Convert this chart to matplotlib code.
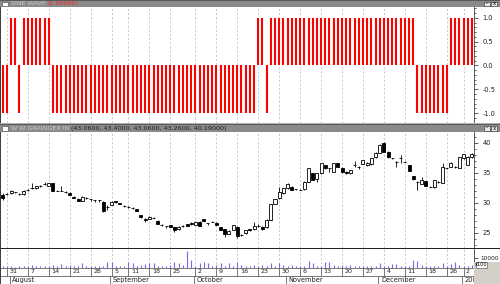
import matplotlib
matplotlib.use("Agg")
import matplotlib.pyplot as plt
from matplotlib.patches import Rectangle
import numpy as np

W, H = 500, 284

# sine wave indicator, one value per trading day
sine = [-1, -1, 1, 1, -1, 1, 1, 1, 1, 1, 1, 1,
        -1, -1, -1, -1, -1, -1, -1, -1, -1, -1, -1, -1, -1, -1, -1, -1, -1,
        -1, -1, -1, -1, -1, -1, -1, -1, -1, -1, -1, -1, -1, -1, -1, -1, -1,
        -1, -1, -1, -1, -1, -1, -1, -1, -1, -1, -1, -1, -1, -1, -1,
        1, 1, -1,
        1, 1, 1, 1, 1, 1, 1, 1, 1, 1, 1, 1, 1, 1, 1, 1, 1, 1,
        1, 1, 1, 1, 1, 1, 1, 1, 1, 1, 1, 1, 1, 1, 1, 1, 1,
        -1, -1, -1, -1, -1, -1, -1, -1,
        1, 1, 1, 1, 1, 1]

# daily prices
opens = [31.33, 31.5, 31.6, 31.8, 31.5, 31.5, 32.1, 32.45, 32.44, 32.8,
         33.1, 32.83, 33.39, 32.05, 32.05, 31.9, 31.72, 31.05, 30.7, 30.4,
         30.78, 30.6, 30.5, 30.5, 30.2, 29.35, 29.67, 30.3, 30.0, 29.5,
         29.3, 29.1, 28.95, 28.0, 27.4, 27.4, 27.55, 27.05, 26.33, 26.16,
         26.33, 25.94, 25.6, 26.16, 26.45, 26.7, 26.33, 26.9, 27.27, 26.6,
         26.9, 26.7, 25.94, 25.6, 24.83, 25.5, 26.05, 24.67, 24.94, 25.6,
         25.6, 26.16, 26.05, 25.94, 27.16, 29.83, 30.78, 31.6, 32.44, 32.72,
         32.3, 32.16, 32.27, 33.55, 34.94, 33.94, 34.94, 36.33, 35.78, 35.22,
         36.61, 35.9, 35.22, 34.94, 36.33, 36.05, 36.5, 36.27, 36.44, 37.61,
         38.39, 39.94, 38.55, 37.44, 36.89, 37.44, 36.89, 36.33, 34.5, 33.55,
         33.16, 33.66, 32.72, 32.6, 33.5, 33.39, 35.78, 36.05, 36.05, 35.9,
         37.44, 36.3, 37.6]
closes = [30.78, 31.5, 32.0, 31.8, 31.5, 32.0, 32.2, 32.45, 32.83, 32.8,
          33.2, 33.28, 32.05, 32.05, 32.05, 31.9, 31.33, 30.83, 30.4, 31.05,
          30.78, 30.6, 30.5, 30.5, 28.7, 29.25, 30.22, 30.1, 29.9, 29.5,
          29.3, 29.1, 28.7, 27.6, 27.2, 27.7, 27.55, 26.5, 26.33, 26.16,
          26.05, 25.5, 26.05, 26.16, 26.16, 26.45, 26.9, 26.16, 27.0, 26.6,
          26.9, 26.33, 25.5, 24.83, 25.4, 26.33, 24.5, 24.67, 25.5, 25.45,
          26.16, 26.16, 25.6, 27.16, 29.83, 30.6, 31.89, 32.44, 33.16, 32.16,
          32.3, 32.16, 33.55, 35.78, 33.83, 34.94, 36.61, 35.78, 35.78, 36.61,
          36.05, 35.1, 34.94, 35.5, 36.33, 36.05, 37.16, 36.72, 37.44, 38.39,
          39.67, 38.55, 37.61, 37.44, 36.89, 37.44, 36.89, 35.4, 33.94, 33.55,
          33.83, 32.83, 32.72, 33.83, 33.5, 36.05, 35.78, 36.61, 36.05, 37.61,
          38.16, 37.7, 38.1]
highs = [31.6, 31.7, 32.1, 31.9, 31.7, 32.1, 32.3, 33.4, 32.9, 32.95,
         33.55, 33.3, 33.4, 32.2, 32.83, 31.95, 31.8, 31.1, 30.75, 31.1,
         30.95, 30.65, 30.55, 30.55, 30.3, 29.67, 30.3, 30.4, 30.05, 29.7,
         29.45, 29.25, 29.0, 28.05, 27.45, 27.8, 27.65, 27.1, 26.45, 26.2,
         26.4, 26.0, 26.1, 26.3, 26.5, 26.75, 26.95, 26.95, 27.4, 26.65,
         27.0, 26.75, 26.0, 25.65, 25.45, 26.4, 26.1, 24.8, 25.55, 25.7,
         26.9, 26.5, 26.1, 27.4, 29.9, 30.7, 32.7, 32.5, 33.4, 32.8,
         32.4, 32.25, 33.6, 35.85, 35.0, 35.0, 36.7, 36.4, 35.85, 36.7,
         36.65, 35.95, 35.3, 35.55, 37.05, 36.1, 37.2, 36.8, 37.5, 38.45,
         39.75, 40.2, 38.6, 37.55, 36.95, 38.0, 37.0, 36.4, 34.55, 33.6,
         34.4, 33.7, 32.8, 33.9, 33.6, 36.6, 35.9, 36.9, 36.1, 37.7,
         38.2, 37.8, 38.4]
lows = [30.5, 31.3, 31.5, 31.7, 31.4, 31.4, 32.0, 32.3, 32.4, 32.7,
        33.0, 32.8, 32.0, 31.95, 31.95, 31.6, 31.3, 30.8, 30.35, 30.35,
        30.6, 30.3, 30.2, 30.2, 28.55, 28.83, 29.6, 30.0, 29.85, 29.4,
        29.2, 29.0, 28.65, 27.55, 26.9, 27.35, 27.5, 26.45, 26.2, 25.77,
        26.0, 25.1, 25.55, 26.05, 26.1, 26.4, 26.3, 26.1, 26.95, 26.3,
        26.8, 26.3, 25.45, 24.4, 24.8, 25.45, 24.1, 24.55, 24.9, 25.3,
        25.5, 26.0, 25.55, 25.9, 27.1, 29.75, 30.7, 31.55, 32.4, 32.1,
        32.2, 32.1, 32.2, 33.5, 33.75, 33.55, 34.9, 35.7, 35.22, 35.2,
        36.0, 35.05, 34.9, 34.9, 36.05, 35.6, 36.45, 36.2, 36.4, 37.55,
        38.35, 38.5, 37.55, 37.35, 36.05, 36.6, 36.8, 35.35, 33.9, 32.16,
        33.1, 32.8, 32.6, 32.55, 33.4, 33.3, 35.7, 36.0, 35.9, 35.85,
        37.4, 36.25, 37.5]

# volume in hundreds of shares
volume = [1200, 1500, 1300, 1000, 1200, 1500, 1800, 2700, 2000, 1500,
          1300, 1800, 2700, 1500, 3300, 1200, 2700, 1500, 1800, 4300,
          1500, 1200, 1800, 1500, 2000, 5300, 5300, 1500, 1800, 2000,
          6000, 4300, 2000, 2700, 3700, 5000, 4300, 2000, 1500, 2000,
          2700, 6000, 4300, 2700, 16700, 7700, 2000, 5000, 5300, 4300,
          2000, 2700, 4300, 2000, 5000, 2000, 5700, 2700, 2000, 1500,
          2700, 2000, 2700, 1800, 4300, 2000, 4300, 2700, 2000, 2700,
          1500, 1800, 2000, 6700, 4300, 2000, 1500, 6000, 5300, 2700,
          1500, 2700, 1500, 2700, 1300, 1200, 2000, 1500, 1800, 1500,
          4300, 2000, 1500, 3300, 3300, 2000, 1500, 1800, 7700, 6700,
          2700, 2000, 1500, 1800, 2000, 4300, 2000, 3300, 5300, 2700,
          2000, 1500, 2700]

# date axis
tick_bars = [1, 6, 11, 16, 21, 26, 30, 35, 40, 46, 51, 56, 61, 66, 71, 76,
             81, 86, 91, 96, 101, 106, 110]
tick_labels = ["31", "7", "14", "21", "28", "5", "11", "18", "25", "2", "9",
               "16", "23", "30", "6", "13", "20", "27", "4", "11", "18", "26", "2"]
month_bars = [2, 26, 46, 68, 90, 110]
month_labels = ["August", "September", "October", "November", "December", "2004"]

x = np.arange(len(closes))
o, c = np.array(opens), np.array(closes)
xlim = (-0.64, 112.5)
grid_kw = dict(color="#c0c0c0", lw=0.6, ls=(0, (2.5, 2.5)), zorder=0)

fig = plt.figure(figsize=(W / 100, H / 100), dpi=100)
fig.patch.set_facecolor("white")
renderer = fig.canvas.get_renderer()


def px_axes(x0, y0, x1, y1):
    return fig.add_axes([x0 / W, 1 - y1 / H, (x1 - x0) / W, (y1 - y0) / H])


def px_rect(x0, y0, x1, y1, **kw):
    fig.add_artist(Rectangle((x0 / W, 1 - y1 / H), (x1 - x0) / W, (y1 - y0) / H,
                             transform=fig.transFigure, **kw))


def title_bar(y0, y1, parts):
    px_rect(0, y0, W, y1, facecolor="#8a8a8a", edgecolor="none")
    px_rect(0, y0, W, y0 + 1, facecolor="#5a5a5a", edgecolor="none")
    px_rect(2, y0 + 2, 8, y1 - 1.5, facecolor="white", edgecolor="#404040", lw=0.4)
    tx = 11
    for s, col in parts:
        t = fig.text(tx / W, 1 - (y0 + y1) / 2 / H, s, color=col, fontsize=4.6,
                     va="center", ha="left")
        tx += t.get_window_extent(renderer).width + 1.5
    for bx in (484, 491):
        px_rect(bx, y0 + 1.5, bx + 6, y1 - 1.5, facecolor="#e8e8e8", edgecolor="#303030", lw=0.4)
    fig.text(487 / W, 1 - (y0 + y1) / 2 / H, "-", fontsize=4, ha="center", va="center")
    fig.text(494 / W, 1 - (y0 + y1) / 2 / H, "x", fontsize=4, ha="center", va="center")


def style(ax):
    ax.set_xlim(*xlim)
    ax.set_facecolor("white")
    for s in ax.spines.values():
        s.set_visible(False)
    ax.spines["right"].set_visible(True)
    ax.spines["right"].set_color("#404040")
    ax.spines["right"].set_linewidth(0.6)
    ax.yaxis.tick_right()
    ax.tick_params(axis="y", which="both", labelsize=4.8, colors="#202020",
                   width=0.5, pad=3)
    ax.tick_params(axis="y", which="major", length=3)
    ax.tick_params(axis="y", which="minor", length=1.5)
    ax.set_xticks([])
    ax.vlines(tick_bars, 0, 1, transform=ax.get_xaxis_transform(), **grid_kw)


# sine wave pane
ax1 = px_axes(0, 7, 474, 123)
style(ax1)
ax1.vlines(x, 0, sine, color="#ff0000", lw=1.5)
ax1.set_ylim(-1.21, 1.23)
ax1.set_yticks([-1, -0.5, 0, 0.5, 1])
ax1.set_yticklabels(["-1.0", "-0.5", "0.0", "0.5", "1.0"])
ax1.set_yticks(np.arange(-1.2, 1.25, 0.1), minor=True)

# price pane
ax2 = px_axes(0, 132, 474, 248)
style(ax2)
ax2.vlines(x, lows, highs, color="black", lw=0.6, zorder=2)
ax2.bar(x, c - o, bottom=o, width=0.72, color=np.where(c >= o, "white", "black"),
        edgecolor="black", lw=0.6, zorder=3)
ax2.set_ylim(22.5, 41.83)
ax2.set_yticks([25, 30, 35, 40])
ax2.set_yticks(np.arange(23, 42, 1), minor=True)

# volume pane
ax3 = px_axes(0, 249, 474, 267.5)
style(ax3)
ax3.vlines(x, 0, volume, color="#7b68ee", lw=0.8, zorder=2)
ax3.set_ylim(0, 18500)
ax3.set_yticks([10000])
ax3.tick_params(axis="y", labelsize=4.2, pad=1.5)

# separators and frames
px_rect(0, 247.8, W, 249.2, facecolor="#202020", edgecolor="none")
px_rect(0, 7, 1.2, 284, facecolor="#404040", edgecolor="none")
px_rect(0, 123, W, 124, facecolor="#b0b0b0", edgecolor="none")

title_bar(0, 7, [("SINE WAVE", "#c8c8c8"), ("(1.00000)", "#ff2020")])
title_bar(124, 132, [("W W GRAINGER IN", "#c8c8c8"),
                     ("(43.0600, 43.4000, 43.0600, 43.2600, 40.19000)", "#202020")])

# date axis
axd = px_axes(0, 267.5, 474, 284)
axd.set_xlim(*xlim)
axd.set_ylim(0, 16.5)
axd.axis("off")
axd.axhline(16.3, color="#606060", lw=0.6)
axd.axhline(8.2, color="#606060", lw=0.6)
axd.vlines(tick_bars, 8.2, 16.3, color="#404040", lw=0.5)
for b, s in zip(tick_bars, tick_labels):
    axd.text(b + 0.6, 12.2, s, fontsize=4.6, va="center", ha="left", color="#202020")
axd.vlines(np.array(month_bars) - 0.3, 0, 8.2, color="#404040", lw=0.5)
for b, s in zip(month_bars, month_labels):
    axd.text(b + 0.3, 4.0, s, fontsize=4.8, va="center", ha="left", color="#202020",
             clip_on=True)

# bottom right corner
px_rect(474, 262, W, H, facecolor="#d4d0c8", edgecolor="none")
px_rect(475.5, 262, 487, 267.5, facecolor="white", edgecolor="#404040", lw=0.4)
fig.text(481 / W, 1 - 264.8 / H, "x100", fontsize=3.6, ha="center", va="center")

fig.savefig("out.png", dpi=100)
